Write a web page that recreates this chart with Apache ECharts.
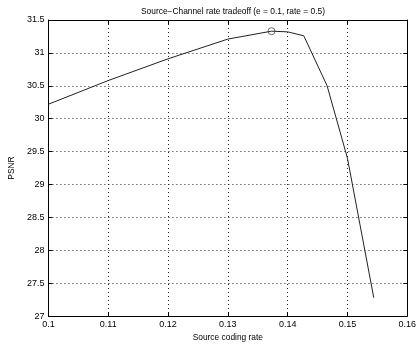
<!DOCTYPE html>
<html>
<head>
<meta charset="utf-8">
<script src="https://cdn.jsdelivr.net/npm/echarts@6/dist/echarts.min.js"></script>
<style>
  html, body {margin: 0; padding: 0; background: #fff;}
  #chart {width: 419px; height: 347px;}
</style>
</head>
<body>
<div id="chart"></div>
<script>
// source coding rate vs PSNR
const rates = [0.1, 0.11, 0.12, 0.125, 0.13, 0.1373, 0.14, 0.1427, 0.1466, 0.1500, 0.1544];
const psnr = [30.22, 30.58, 30.91, 31.06, 31.21, 31.33, 31.32, 31.26, 30.5, 29.4, 27.28];
const optimum = [0.1373, 31.33];

const font = '"Liberation Sans", Arial, sans-serif';
const chart = echarts.init(document.getElementById('chart'));

const axisCommon = {
  axisLine: {show: true, lineStyle: {color: '#000', width: 1}},
  axisTick: {show: true, inside: true, length: 4, lineStyle: {color: '#000'}},
  splitLine: {show: false}
};

chart.setOption({
  animation: false,
  backgroundColor: '#fff',
  title: {
    text: 'Source\u2212Channel rate tradeoff (e = 0.1, rate = 0.5)',
    left: 228,
    top: 3,
    textAlign: 'center',
    textStyle: {fontFamily: font, fontSize: 8.4, fontWeight: 'normal', color: '#000'}
  },
  grid: {left: 41, right: 6, top: 20, bottom: 26},
  xAxis: [{
    ...axisCommon,
    type: 'value',
    min: 0.1, max: 0.16, interval: 0.01,
    name: 'Source coding rate',
    nameLocation: 'middle',
    nameGap: 17,
    nameTextStyle: {fontFamily: font, fontSize: 8.4, color: '#000'},
    axisLabel: {
      fontFamily: font, fontSize: 9, color: '#000', margin: 4,
      formatter: v => String(+v.toFixed(2))
    },
    splitLine: {show: true, lineStyle: {color: '#222', type: [1, 3], width: 1}}
  }, {
    ...axisCommon,
    type: 'value', position: 'top',
    min: 0.1, max: 0.16, interval: 0.01,
    axisLabel: {show: false}
  }],
  yAxis: [{
    ...axisCommon,
    type: 'value',
    min: 27, max: 31.5, interval: 0.5,
    name: 'PSNR',
    nameLocation: 'middle',
    nameGap: 26,
    nameTextStyle: {fontFamily: font, fontSize: 8.4, color: '#000'},
    axisLabel: {fontFamily: font, fontSize: 9, color: '#000', margin: 4},
    splitLine: {show: true, lineStyle: {color: '#222', type: [1, 3], width: 1}}
  }, {
    ...axisCommon,
    type: 'value', position: 'right',
    min: 27, max: 31.5, interval: 0.5,
    axisLabel: {show: false}
  }],
  series: [{
    type: 'line',
    data: rates.map((r, i) => [r, psnr[i]]),
    symbol: 'none',
    lineStyle: {color: '#222', width: 1},
    silent: true
  }, {
    type: 'scatter',
    data: [optimum],
    symbol: 'circle',
    symbolSize: 7,
    z: 5,
    itemStyle: {color: 'rgba(255,255,255,0)', borderColor: '#333', borderWidth: 0.9}
  }]
});
</script>
</body>
</html>
